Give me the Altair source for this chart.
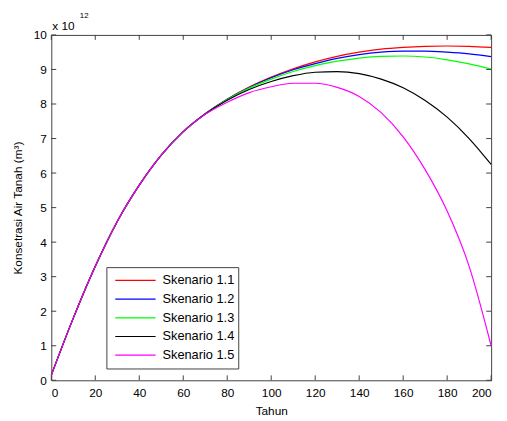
import altair as alt
import pandas as pd

# ---- data (values in units of 10^12 m^3) ----
years = [0, 10, 20, 30, 40, 50, 60, 70, 80, 90, 100, 110, 120, 130, 140, 150, 160, 170, 180, 190, 200]
s11 = [0.15, 1.8, 3.3, 4.6, 5.65, 6.52, 7.2, 7.72, 8.14, 8.49, 8.78, 9.02, 9.22, 9.38, 9.5, 9.59, 9.64, 9.67, 9.68, 9.67, 9.64]
s12 = [0.15, 1.8, 3.3, 4.6, 5.65, 6.52, 7.2, 7.72, 8.14, 8.48, 8.76, 8.99, 9.17, 9.32, 9.43, 9.5, 9.53, 9.53, 9.5, 9.45, 9.37]
s13 = [0.15, 1.8, 3.3, 4.6, 5.65, 6.52, 7.2, 7.71, 8.13, 8.46, 8.72, 8.94, 9.11, 9.24, 9.33, 9.38, 9.39, 9.36, 9.28, 9.16, 9.01]
s14 = [0.15, 1.8, 3.3, 4.6, 5.65, 6.52, 7.2, 7.71, 8.11, 8.42, 8.65, 8.82, 8.92, 8.94, 8.88, 8.72, 8.47, 8.1, 7.62, 7.0, 6.25]
s15 = [0.15, 1.8, 3.3, 4.6, 5.65, 6.52, 7.2, 7.7, 8.05, 8.33, 8.5, 8.6, 8.6, 8.48, 8.22, 7.75, 7.05, 6.1, 4.9, 3.3, 1.0]
series_names = ["Skenario 1.1", "Skenario 1.2", "Skenario 1.3", "Skenario 1.4", "Skenario 1.5"]
series_colors = ["#ff0000", "#0000ff", "#00ff00", "#000000", "#ff00ff"]
x_ticks = [0, 20, 40, 60, 80, 100, 120, 140, 160, 180, 200]
y_ticks = [0, 1, 2, 3, 4, 5, 6, 7, 8, 9, 10]

rows = []
for name, vals in zip(series_names, [s11, s12, s13, s14, s15]):
    for t, v in zip(years, vals):
        rows.append({"Tahun": t, "V": v, "Seri": name})
df = pd.DataFrame(rows)

FONT = "Liberation Sans"
W, H = 447, 351
AX = "#404040"

xscale = alt.Scale(domain=[0, 200], nice=False, zero=False)
yscale = alt.Scale(domain=[0, 10], nice=False, zero=False)

x_axis = alt.Axis(values=x_ticks, tickCount=11, grid=False, domain=False, ticks=False,
                  labelPadding=7, titlePadding=8, format="d", labelOverlap=False,
                  titleFontWeight="normal")
y_axis = alt.Axis(values=y_ticks, tickCount=11, grid=False, domain=False, ticks=False,
                  labelPadding=5, titlePadding=9, format="d", labelOverlap=False,
                  titleFontWeight="normal")
x_title = "Tahun"
y_title = "Konsetrasi Air Tanah (m³)"

lines = alt.Chart(df).mark_line(strokeWidth=1.2, interpolate="monotone").encode(
    x=alt.X("Tahun:Q", scale=xscale, title=x_title, axis=x_axis),
    y=alt.Y("V:Q", scale=yscale, title=y_title, axis=y_axis),
    color=alt.Color("Seri:N",
                    scale=alt.Scale(domain=series_names, range=series_colors),
                    legend=alt.Legend(orient="none", legendX=56, legendY=236, title=None,
                                      strokeColor=AX, fillColor="white", padding=4,
                                      symbolType="stroke", symbolSize=1681,
                                      symbolStrokeWidth=1.2, clipHeight=19, rowPadding=0,
                                      labelFontSize=13, labelFont=FONT, labelColor="#000000",
                                      symbolOffset=4, labelOffset=6, labelLimit=200)),
    order=alt.Order("Tahun:Q"),
)

xt = pd.DataFrame({"Tahun": x_ticks})
yt = pd.DataFrame({"V": y_ticks})
tick_b = alt.Chart(xt).mark_rule(color=AX).encode(
    x=alt.X("Tahun:Q", scale=xscale, title=x_title, axis=x_axis), y=alt.value(H), y2=alt.value(H - 5))
tick_t = alt.Chart(xt).mark_rule(color=AX).encode(
    x=alt.X("Tahun:Q", scale=xscale, title=x_title, axis=x_axis), y=alt.value(0), y2=alt.value(5))
tick_l = alt.Chart(yt).mark_rule(color=AX).encode(
    y=alt.Y("V:Q", scale=yscale, title=y_title, axis=y_axis), x=alt.value(0), x2=alt.value(5))
tick_r = alt.Chart(yt).mark_rule(color=AX).encode(
    y=alt.Y("V:Q", scale=yscale, title=y_title, axis=y_axis), x=alt.value(W), x2=alt.value(W - 5))

exp_base = alt.Chart(pd.DataFrame({"s": ["x 10"]})).mark_text(
    align="left", baseline="alphabetic", font=FONT, fontSize=12, color="#000000"
).encode(text="s:N", x=alt.value(1), y=alt.value(-5))
exp_pow = alt.Chart(pd.DataFrame({"s": ["12"]})).mark_text(
    align="left", baseline="alphabetic", font=FONT, fontSize=8, color="#000000"
).encode(text="s:N", x=alt.value(29), y=alt.value(-17))

chart = alt.layer(lines, tick_b, tick_t, tick_l, tick_r, exp_base, exp_pow).properties(
    width=W, height=H,
    autosize=alt.AutoSizeParams(type="none"),
    padding={"left": 44, "top": 24, "right": 8, "bottom": 38},
).configure(background="white").configure_view(stroke=AX, strokeWidth=1).configure_axis(
    labelFont=FONT, titleFont=FONT, labelFontSize=12, titleFontSize=12,
    labelColor="#000000", titleColor="#000000", titleFontWeight="normal",
    labelOverlap=False,
)

chart.save("out.html", embed_options={"renderer": "svg", "actions": False})
